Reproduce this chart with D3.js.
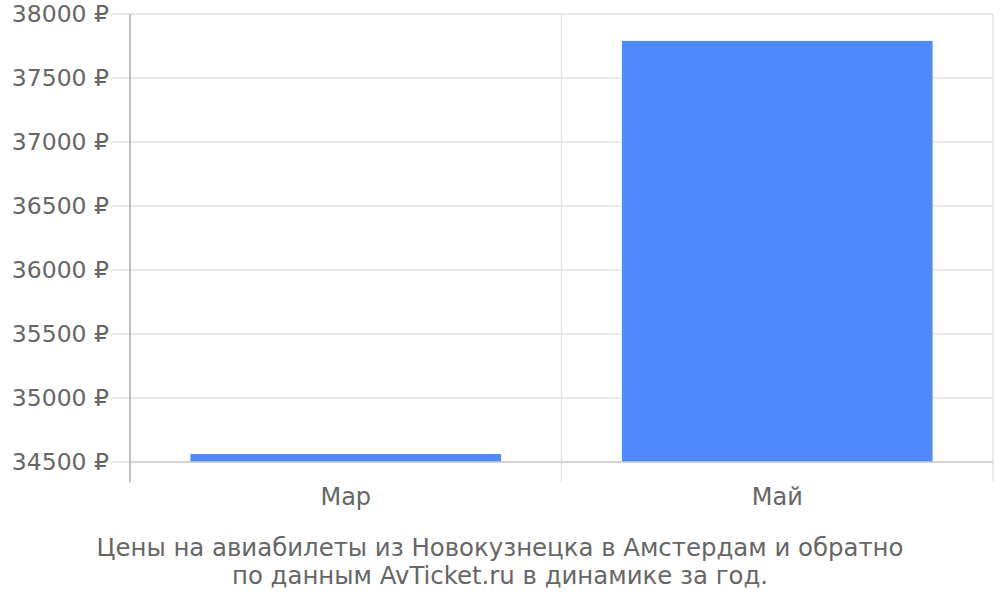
<!DOCTYPE html>
<html>
<head>
<meta charset="utf-8">
<script src="https://cdn.jsdelivr.net/npm/d3@7"></script>
<style>
  body { margin: 0; background: #fff; }
  text { font-family: "DejaVu Sans", sans-serif; fill: #666; }
</style>
</head>
<body>
<div id="chart"></div>
<script>
// data
const months = ["Мар", "Май"];
const prices = [34562, 37790];
const yTicks = [34500, 35000, 35500, 36000, 36500, 37000, 37500, 38000];
const caption = ["Цены на авиабилеты из Новокузнецка в Амстердам и обратно",
                 "по данным AvTicket.ru в динамике за год."];

const width = 1000, height = 600;
const margin = {top: 14, right: 7, bottom: 138, left: 130};
const innerW = width - margin.left - margin.right,
      innerH = height - margin.top - margin.bottom;

const svg = d3.select("#chart").append("svg")
    .attr("width", width).attr("height", height);

const g = svg.append("g")
    .attr("transform", "translate(" + margin.left + "," + margin.top + ")");

const x = d3.scaleBand().domain(months).range([0, innerW])
    .paddingInner(0.28).paddingOuter(0.14);
const y = d3.scaleLinear().domain([34500, 38000]).range([innerH, 0]);

// horizontal grid
g.append("g").selectAll("line").data(yTicks).join("line")
    .attr("x1", -20).attr("x2", innerW)
    .attr("y1", d => y(d)).attr("y2", d => y(d))
    .attr("stroke", "#e3e3e3").attr("stroke-width", 1.5);

// vertical grid (category boundaries)
const step = x.step();
const bounds = d3.range(months.length + 1).map(i => i * step);
g.append("g").selectAll("line").data(bounds.slice(1)).join("line")
    .attr("x1", d => d).attr("x2", d => d)
    .attr("y1", 0).attr("y2", innerH + 20)
    .attr("stroke", "#e3e3e3").attr("stroke-width", 1.5);

// bars
g.append("g").selectAll("rect").data(prices).join("rect")
    .attr("x", (d, i) => x(months[i]))
    .attr("width", x.bandwidth())
    .attr("y", d => y(d))
    .attr("height", d => y(34500) - y(d))
    .attr("fill", "#4d8afc");

// x baseline
g.append("line")
    .attr("x1", 0).attr("x2", innerW)
    .attr("y1", innerH).attr("y2", innerH)
    .attr("stroke", "#ccc").attr("stroke-width", 1.5);

// y axis line
g.append("line")
    .attr("x1", 0).attr("x2", 0)
    .attr("y1", 0).attr("y2", innerH + 20)
    .attr("stroke", "#aaa").attr("stroke-width", 1.5);

// y labels
g.append("g").selectAll("text").data(yTicks).join("text")
    .attr("x", -21).attr("y", d => y(d))
    .attr("dy", "0.35em")
    .attr("text-anchor", "end")
    .style("font-size", "23.5px")
    .text(d => d + " ₽");

// x labels
g.append("g").selectAll("text").data(months).join("text")
    .attr("x", d => x(d) + x.bandwidth() / 2)
    .attr("y", innerH + 35)
    .attr("dy", "0.35em")
    .attr("text-anchor", "middle")
    .style("font-size", "24px")
    .text(d => d);

// caption
svg.append("g").selectAll("text").data(caption).join("text")
    .attr("x", 500).attr("y", (d, i) => 547 + i * 28)
    .attr("dy", "0.35em")
    .attr("text-anchor", "middle")
    .style("font-size", "24.4px")
    .text(d => d);
</script>
</body>
</html>
